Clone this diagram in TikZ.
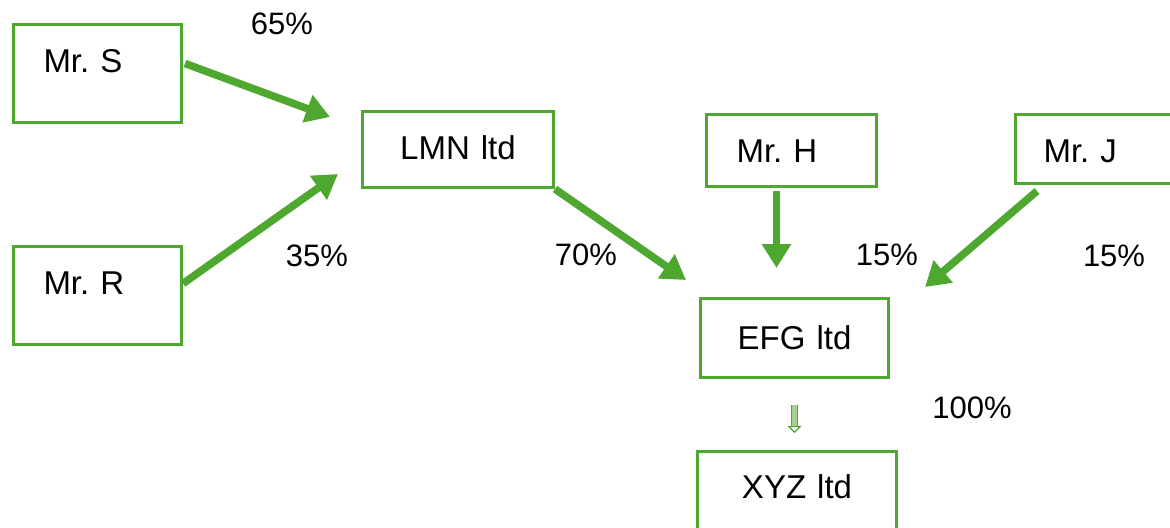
\documentclass[tikz,border=0pt]{standalone}
\usepackage{fontspec}
\setmainfont{Liberation Sans}
\usetikzlibrary{arrows.meta, calc}
\definecolor{ogreen}{HTML}{4EA72E}
\definecolor{lgreen}{HTML}{A9D18E}
\frenchspacing

\begin{document}
\begin{tikzpicture}[x=0.5pt, y=-0.5pt,
        box/.style={draw=ogreen, line width=1.5pt, anchor=north west, inner ysep=0pt,
            text height=24pt, font=\fontsize{16.5}{18}\selectfont},
        person/.style={box, inner xsep=15pt, align=left},
        firm/.style={box, inner xsep=0pt, align=center},
        share/.style={ogreen, line width=3.8pt, -{Triangle[length=12pt, width=14pt]}},
        pct/.style={inner sep=0pt, font=\fontsize{15.5}{17}\selectfont}]
        \clip (0,0) rectangle (1170,527);
        % owners and companies
        \node[person, text width=54pt, text depth=25pt] (s) at (12,23) {Mr. S};
        \node[person, text width=54pt, text depth=25pt] (r) at (12,245) {Mr. R};
        \node[firm, text width=95.5pt, text depth=14pt] (lmn) at (361,110) {LMN ltd};
        \node[person, text width=55pt, text depth=12pt] (h) at (705,113) {Mr. H};
        \node[person, inner xsep=14pt, text width=100pt, text depth=10.5pt] (j) at (1014,113) {Mr. J};
        \node[firm, text width=94pt, text height=25.5pt, text depth=14pt] (efg) at (699,297) {EFG ltd};
        \node[firm, text width=99.5pt, text height=23.5pt, text depth=30pt] (xyz) at (696,450) {XYZ ltd};
        % holdings
        \node[pct] (p65) at (282,24) {65\%};
        \node[pct] (p35) at (317,256) {35\%};
        \node[pct] (p70) at (586,255) {70\%};
        \node[pct] (p15h) at (887,255) {15\%};
        \node[pct] (p15j) at (1114,256) {15\%};
        \node[pct] (p100) at (972,408) {100\%};
        \draw[share] ($(s.east)+(2,-10)$) -- ($(lmn.north west)+(-31,7)$);
        \draw[share] ($(r.east)+(0,-12)$) -- ($(lmn.south west)+(-23,-15)$);
        \draw[share] (lmn.south east) -- ($(efg.north west)+(-13,-17)$);
        \draw[share] ($(h.south)+(-15,3)$) -- ($(efg.north)+(-18,-29)$);
        \draw[share] ($(j.south west)+(23,6)$) -- ($(efg.north east)+(35,-10)$);
        \draw[ogreen, line width=0.6pt, double=lgreen, double distance=2.4pt,
            shorten <=13pt, shorten >=8.5pt, -{Triangle[length=3.5pt, width=7pt, open]}]
            (efg.south) -- (efg.south |- xyz.north);
    \end{tikzpicture}
\end{document}
